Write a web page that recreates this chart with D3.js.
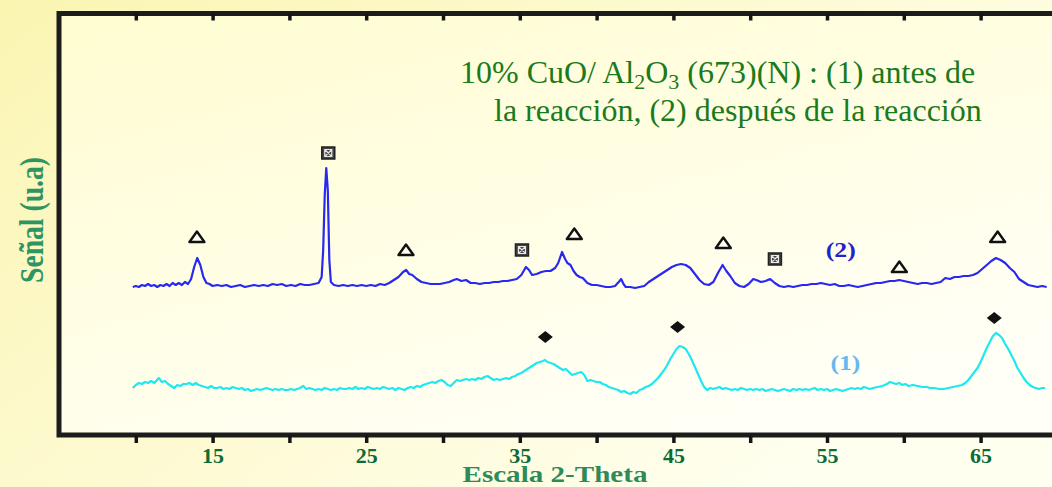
<!DOCTYPE html>
<html>
<head>
<meta charset="utf-8">
<script src="https://cdn.jsdelivr.net/npm/d3@7"></script>
<style>
html, body { margin: 0; padding: 0; }
body { width: 1052px; height: 487px; overflow: hidden; }
</style>
</head>
<body>
<div id="chart"></div>
<script>
// 2-theta ticks and which of them carry a label
var xTicks = [10, 15, 20, 25, 30, 35, 40, 45, 50, 55, 60, 65, 70];
var xLabels = [15, 25, 35, 45, 55, 65];

// (2) despues de la reaccion  [2theta, senal u.a]
var curve2 = [
  [9.8,148],[10.0,149],[10.2,148],[10.4,150],[10.6,149],[10.8,151],[11.0,149],[11.2,150],[11.4,148],[11.6,150],
  [11.8,149],[12.0,151],[12.2,149],[12.4,152],[12.6,150],[12.8,152],[13.0,150],[13.2,153],[13.4,151],[13.6,156],
  [13.8,168],[14.0,177],[14.2,170],[14.4,158],[14.6,152],[14.8,151],[15.0,149],[15.3,150],[15.6,149],[15.9,150],
  [16.2,148],[16.5,149],[16.8,150],[17.1,148],[17.4,149],[17.7,150],[18.0,149],[18.3,150],[18.6,149],[18.9,151],
  [19.2,150],[19.5,151],[19.8,149],[20.1,150],[20.4,149],[20.7,151],[21.0,150],[21.3,150],[21.6,151],[21.9,152],
  [22.1,158],[22.2,185],[22.3,240],[22.4,267],[22.5,245],[22.6,175],[22.7,153],[22.9,150],[23.2,149],[23.5,150],
  [23.8,149],[24.1,150],[24.4,149],[24.7,150],[25.0,149],[25.3,150],[25.6,149],[25.9,151],[26.2,150],[26.5,152],
  [26.8,155],[27.1,158],[27.4,163],[27.6,165],[27.8,161],[28.0,160],[28.3,156],[28.6,153],[28.9,152],[29.2,151],
  [29.5,151],[29.8,151],[30.1,152],[30.4,153],[30.7,155],[30.9,156],[31.2,154],[31.5,155],[31.8,152],[32.1,152],
  [32.4,151],[32.7,152],[33.0,152],[33.3,153],[33.6,153],[33.9,154],[34.2,154],[34.5,155],[34.8,156],[35.1,160],
  [35.4,168],[35.6,165],[35.8,160],[36.1,161],[36.4,163],[36.7,164],[37.0,164],[37.3,167],[37.5,172],[37.75,183],
  [37.95,176],[38.1,172],[38.3,170],[38.5,164],[38.7,160],[38.9,158],[39.1,157],[39.4,152],[39.7,150],[40.0,150],
  [40.3,149],[40.6,148],[40.9,148],[41.2,149],[41.5,154],[41.6,156],[41.75,151],[41.9,148],[42.2,148],[42.5,147],
  [42.8,148],[43.1,149],[43.4,153],[43.7,156],[44.0,159],[44.3,162],[44.6,165],[44.9,168],[45.2,170],[45.5,171],
  [45.8,170],[46.1,167],[46.4,161],[46.7,155],[47.0,151],[47.3,150],[47.6,153],[47.9,162],[48.2,170],[48.45,164],
  [48.7,159],[49.0,152],[49.3,149],[49.6,148],[49.9,151],[50.2,156],[50.4,155],[50.7,153],[51.0,154],[51.3,156],
  [51.6,152],[51.9,149],[52.2,148],[52.5,149],[52.8,148],[53.1,149],[53.4,150],[53.7,150],[54.0,151],[54.3,151],
  [54.6,152],[54.9,151],[55.2,150],[55.5,151],[55.8,149],[56.1,149],[56.4,150],[56.7,149],[57.0,148],[57.3,149],
  [57.6,150],[57.9,151],[58.2,152],[58.5,152],[58.8,153],[59.1,154],[59.4,154],[59.7,155],[60.0,154],[60.3,153],
  [60.6,152],[60.9,151],[61.2,152],[61.5,152],[61.8,151],[62.1,152],[62.4,153],[62.7,157],[63.0,156],[63.3,158],
  [63.6,158],[63.9,159],[64.2,159],[64.5,160],[64.8,162],[65.1,166],[65.4,170],[65.7,174],[66.0,177],[66.3,175],
  [66.6,172],[66.9,167],[67.2,163],[67.5,156],[67.8,153],[68.1,150],[68.4,149],[68.7,148],[69.0,149],[69.3,148]
];

// (1) antes de la reaccion
var curve1 = [
  [9.8,47],[10.0,50],[10.2,52],[10.4,51],[10.6,53],[10.8,52],[11.0,54],[11.2,52],[11.5,57],[11.7,53],
  [11.9,54],[12.1,51],[12.3,49],[12.5,47],[12.7,50],[12.9,49],[13.1,51],[13.3,51],[13.5,52],[13.7,50],
  [13.9,52],[14.1,50],[14.3,49],[14.5,48],[14.7,47],[14.9,49],[15.1,47],[15.3,47],[15.5,48],[15.7,46],
  [15.9,47],[16.1,46],[16.3,48],[16.5,47],[16.7,46],[16.9,47],[17.1,45],[17.3,46],[17.5,44],[17.7,45],
  [17.9,46],[18.1,45],[18.3,46],[18.5,47],[18.7,46],[18.9,45],[19.1,46],[19.3,45],[19.5,46],[19.7,45],
  [19.9,45],[20.1,46],[20.3,45],[20.5,46],[20.7,47],[20.9,49],[21.1,46],[21.3,47],[21.5,46],[21.7,45],
  [21.9,46],[22.1,45],[22.3,47],[22.5,46],[22.7,45],[22.9,46],[23.1,45],[23.3,47],[23.5,46],[23.7,46],
  [23.9,47],[24.1,46],[24.3,48],[24.5,46],[24.7,47],[24.9,46],[25.1,48],[25.3,47],[25.5,46],[25.7,47],
  [25.9,46],[26.1,48],[26.3,47],[26.5,46],[26.7,47],[26.9,45],[27.1,47],[27.3,46],[27.5,45],[27.7,47],
  [27.9,48],[28.1,47],[28.3,49],[28.5,48],[28.7,50],[28.9,51],[29.1,52],[29.3,53],[29.5,52],[29.7,54],
  [29.9,55],[30.1,53],[30.3,50],[30.5,49],[30.7,52],[30.9,55],[31.1,54],[31.3,55],[31.5,56],[31.7,55],
  [31.9,56],[32.1,55],[32.3,57],[32.5,56],[32.7,58],[32.9,59],[33.1,57],[33.3,55],[33.5,56],[33.7,55],
  [33.9,56],[34.1,57],[34.3,56],[34.5,58],[34.7,59],[34.9,61],[35.1,62],[35.3,64],[35.5,66],[35.7,68],
  [35.9,70],[36.1,72],[36.3,73],[36.5,74],[36.65,75],[36.8,73],[37.0,72],[37.2,71],[37.4,69],[37.6,67],
  [37.8,65],[38.0,66],[38.2,63],[38.4,60],[38.6,61],[38.8,62],[39.0,63],[39.2,60],[39.4,54],[39.6,55],
  [39.8,54],[40.0,53],[40.2,53],[40.4,51],[40.6,50],[40.8,48],[41.0,47],[41.2,46],[41.4,45],[41.6,43],
  [41.8,44],[42.0,42],[42.2,41],[42.4,43],[42.6,42],[42.8,45],[43.0,46],[43.2,48],[43.4,49],[43.6,51],
  [43.8,54],[44.0,57],[44.2,61],[44.4,65],[44.6,70],[44.8,76],[45.0,81],[45.2,86],[45.4,89],[45.6,88],
  [45.8,86],[46.0,81],[46.2,75],[46.4,68],[46.6,61],[46.8,54],[47.0,48],[47.2,45],[47.4,47],[47.6,46],
  [47.8,47],[48.0,48],[48.2,46],[48.4,47],[48.6,46],[48.8,45],[49.0,46],[49.2,45],[49.4,47],[49.6,46],
  [49.8,45],[50.0,46],[50.2,45],[50.4,46],[50.6,45],[50.8,46],[51.0,44],[51.2,45],[51.4,46],[51.6,45],
  [51.8,44],[52.0,45],[52.2,46],[52.4,45],[52.6,44],[52.8,46],[53.0,45],[53.2,46],[53.4,45],[53.6,46],
  [53.8,45],[54.0,46],[54.2,47],[54.4,45],[54.6,46],[54.8,45],[55.0,46],[55.2,44],[55.4,45],[55.6,46],
  [55.8,45],[56.0,44],[56.2,45],[56.4,46],[56.6,47],[56.8,46],[57.0,47],[57.2,46],[57.4,48],[57.6,47],
  [57.8,46],[58.0,47],[58.3,48],[58.6,49],[58.9,51],[59.1,53],[59.3,52],[59.5,51],[59.7,52],[59.9,50],
  [60.1,51],[60.3,49],[60.6,50],[60.9,49],[61.2,48],[61.5,48],[61.7,47],[62.0,47],[62.3,46],[62.6,46],
  [62.9,47],[63.2,48],[63.5,49],[63.8,50],[64.0,52],[64.2,55],[64.4,59],[64.6,63],[64.8,67],[65.0,73],
  [65.2,80],[65.4,87],[65.6,93],[65.8,99],[66.0,102],[66.2,100],[66.4,97],[66.6,91],[66.8,86],[67.0,80],
  [67.2,74],[67.4,67],[67.6,62],[67.8,57],[68.0,53],[68.2,50],[68.4,48],[68.6,47],[68.8,46],[69.0,47],[69.2,47]
];

// phase markers: triangles, boxed crosses (curve 2) and diamonds (curve 1)
var triangles = [[13.98,198],[27.59,185],[38.55,201],[48.25,192],[59.71,168],[66.11,198]];
var boxes = [[22.53,282],[35.14,185],[51.61,176]];
var diamonds = [[36.66,98],[45.27,108],[65.89,117]];

var width = 1052, height = 487;

var x = d3.scaleLinear().domain([5, 70]).range([59, 1057.4]),
    y = d3.scaleLinear().domain([0, 422]).range([435, 13]);

var svg = d3.select("#chart").append("svg")
    .attr("width", width)
    .attr("height", height);

var defs = svg.append("defs");
var pageBg = defs.append("linearGradient").attr("id", "pageBg")
    .attr("x1", 0).attr("y1", 0).attr("x2", 1).attr("y2", 0.6);
pageBg.append("stop").attr("offset", "0%").attr("stop-color", "#fbf5b2");
pageBg.append("stop").attr("offset", "100%").attr("stop-color", "#fffff0");
var plotBg = defs.append("linearGradient").attr("id", "plotBg")
    .attr("x1", 0).attr("y1", 0).attr("x2", 0.6).attr("y2", 1);
plotBg.append("stop").attr("offset", "0%").attr("stop-color", "#fffdd0");
plotBg.append("stop").attr("offset", "100%").attr("stop-color", "#fffff6");

svg.append("rect").attr("width", width).attr("height", height).attr("fill", "url(#pageBg)");

// frame
svg.append("rect")
    .attr("x", x(5)).attr("y", y(422) + 0.5)
    .attr("width", x(70) - x(5))
    .attr("height", y(0) - y(422) - 0.5)
    .attr("fill", "url(#plotBg)")
    .attr("stroke", "#1c1c1c")
    .attr("stroke-width", 5);

// bottom axis
var xAxis = d3.axisBottom(x)
    .tickValues(xTicks)
    .tickSize(8)
    .tickPadding(4)
    .tickFormat(function (d) { return xLabels.indexOf(d) >= 0 ? d : ""; });

var gx = svg.append("g")
    .attr("class", "x axis")
    .attr("transform", "translate(0," + y(0) + ")")
    .call(xAxis);
gx.select(".domain").remove();
gx.selectAll("line").attr("stroke", "#151515").attr("stroke-width", 3.5);
gx.selectAll("text")
    .attr("fill", "#0d6b38")
    .style("font-family", "'Liberation Serif', 'DejaVu Serif', serif")
    .style("font-weight", "bold")
    .style("font-size", "22px");

// top ticks, pointing inward
var gxTop = svg.append("g")
    .attr("transform", "translate(0," + (y(422) + 0.5) + ")")
    .call(d3.axisTop(x).tickValues(xTicks).tickSizeInner(-7).tickSizeOuter(0).tickFormat(""));
gxTop.select(".domain").remove();
gxTop.selectAll("line").attr("stroke", "#151515").attr("stroke-width", 3.5);

var line = d3.line()
    .x(function (d) { return x(d[0]); })
    .y(function (d) { return y(d[1]); });

svg.append("path").datum(curve1)
    .attr("fill", "none").attr("stroke", "#1ee8f0").attr("stroke-width", 2.2)
    .attr("stroke-linejoin", "round")
    .attr("d", line);

svg.append("path").datum(curve2)
    .attr("fill", "none").attr("stroke", "#2828f2").attr("stroke-width", 2.2)
    .attr("stroke-linejoin", "round")
    .attr("d", line);

// markers
svg.selectAll(".tri").data(triangles).enter().append("path")
    .attr("class", "tri")
    .attr("d", function (d) {
        var cx = x(d[0]), cy = y(d[1]);
        return "M" + (cx - 7.5) + "," + (cy + 5) + "L" + cx + "," + (cy - 5.5) + "L" + (cx + 7.5) + "," + (cy + 5) + "Z";
    })
    .attr("fill", "#fffef2").attr("stroke", "#111").attr("stroke-width", 2.4)
    .attr("stroke-linejoin", "round");

var box = svg.selectAll(".box").data(boxes).enter().append("g")
    .attr("class", "box")
    .attr("transform", function (d) { return "translate(" + x(d[0]) + "," + y(d[1]) + ")"; });
box.append("rect").attr("x", -6.5).attr("y", -6).attr("width", 13).attr("height", 12)
    .attr("fill", "#444").attr("stroke", "#222").attr("stroke-width", 1.5);
box.append("path").attr("d", "M-3.5,-3.5L3.5,3.5M3.5,-3.5L-3.5,3.5M-3.5,-3.5H3.5V3.5H-3.5Z")
    .attr("fill", "none").attr("stroke", "#e8e8e8").attr("stroke-width", 1.2);

svg.selectAll(".dia").data(diamonds).enter().append("path")
    .attr("class", "dia")
    .attr("d", function (d) {
        var cx = x(d[0]), cy = y(d[1]);
        return "M" + (cx - 7.5) + "," + cy + "L" + cx + "," + (cy - 6) + "L" + (cx + 7.5) + "," + cy + "L" + cx + "," + (cy + 6) + "Z";
    })
    .attr("fill", "#111");

// curve labels
svg.append("text")
    .attr("x", x(55.9)).attr("y", y(185) + 7)
    .attr("text-anchor", "middle")
    .attr("textLength", 30).attr("lengthAdjust", "spacingAndGlyphs")
    .style("font-family", "'Liberation Serif', serif")
    .style("font-weight", "bold").style("font-size", "21px")
    .attr("fill", "#2222cc")
    .text("(2)");

svg.append("text")
    .attr("x", x(56.2)).attr("y", y(72) + 7)
    .attr("text-anchor", "middle")
    .attr("textLength", 30).attr("lengthAdjust", "spacingAndGlyphs")
    .style("font-family", "'Liberation Serif', serif")
    .style("font-weight", "bold").style("font-size", "21px")
    .attr("fill", "#66b8ee")
    .text("(1)");

// axis titles
svg.append("text")
    .attr("x", 555).attr("y", 482)
    .attr("text-anchor", "middle")
    .attr("textLength", 185).attr("lengthAdjust", "spacingAndGlyphs")
    .style("font-family", "'Liberation Serif', serif")
    .style("font-weight", "bold").style("font-size", "23px")
    .attr("fill", "#2e8a58")
    .text("Escala 2-Theta");

svg.append("text")
    .attr("transform", "translate(43,220) scale(1.5,1) rotate(-90)")
    .attr("text-anchor", "middle")
    .attr("textLength", 126).attr("lengthAdjust", "spacingAndGlyphs")
    .style("font-family", "'Liberation Serif', serif")
    .style("font-weight", "bold")
    .style("font-size", "23px")
    .attr("fill", "#2e9462")
    .text("Señal (u.a)");

// title
var title = svg.append("g")
    .style("font-family", "'Liberation Serif', serif")
    .style("font-size", "32px")
    .attr("fill", "#1b7a1b");

var t1 = title.append("text").attr("x", 460).attr("y", 83);
t1.append("tspan").text("10% CuO/ Al");
t1.append("tspan").attr("dy", 6).style("font-size", "22px").text("2");
t1.append("tspan").attr("dy", -6).text("O");
t1.append("tspan").attr("dy", 6).style("font-size", "22px").text("3");
t1.append("tspan").attr("dy", -6).text(" (673)(N) : (1) antes de");

title.append("text").attr("x", 494).attr("y", 121)
    .text("la reacción, (2) después de la reacción");
</script>
</body>
</html>
